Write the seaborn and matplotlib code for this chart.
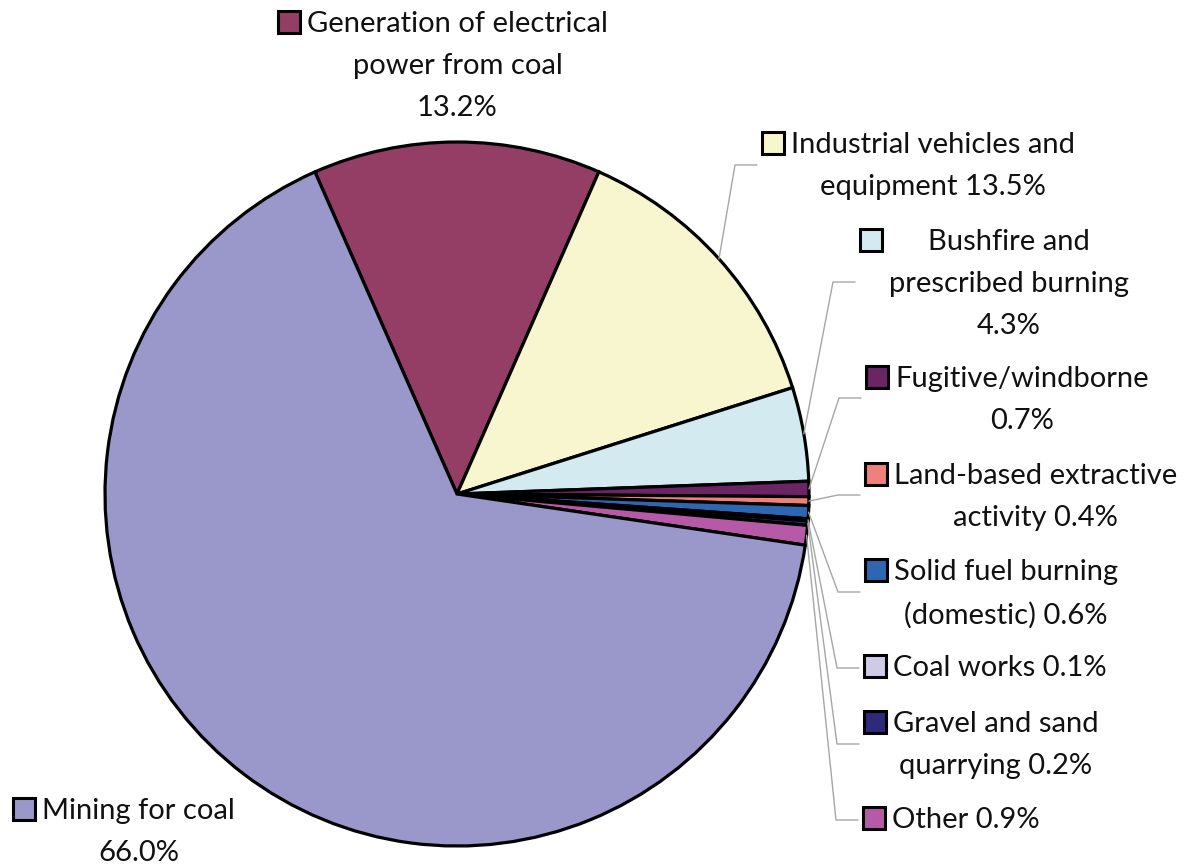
import numpy as np
import matplotlib
matplotlib.use('Agg')
import matplotlib.pyplot as plt
import seaborn as sns
from matplotlib.patches import Rectangle

# slice data, clockwise from the top
labels = ['Generation of electrical\npower from coal\n13.2%',
          'Industrial vehicles and\nequipment 13.5%',
          'Bushfire and\nprescribed burning\n4.3%',
          'Fugitive/windborne\n0.7%',
          'Land-based extractive\nactivity 0.4%',
          'Solid fuel burning\n(domestic) 0.6%',
          'Coal works 0.1%',
          'Gravel and sand\nquarrying 0.2%',
          'Other 0.9%',
          'Mining for coal\n66.0%']
shares = [13.2, 13.5, 4.3, 0.7, 0.4, 0.6, 0.1, 0.2, 0.9, 66.0]
colors = ['#943e66', '#f8f6cf', '#d3ebf0', '#6b2464', '#f0807c',
          '#2e67b1', '#cfcbe6', '#2e2a7b', '#b65aa8', '#9a97cb']

sns.set_theme(style='white')
plt.rcParams['font.family'] = ['Lato', 'DejaVu Sans']

W, H = 1187, 864
CX, CY, R = 457, 494, 352

fig = plt.figure(figsize=(W / 100, H / 100), dpi=100)
ax = fig.add_axes([(CX - R) / W, (H - CY - R) / H, 2 * R / W, 2 * R / H])
wedges, _ = ax.pie(shares, colors=colors, startangle=113.8, counterclock=False,
                   wedgeprops=dict(edgecolor='black', linewidth=2.3))
ax.set_xlim(-1, 1)
ax.set_ylim(-1, 1)

# overlay in pixel coordinates for labels and leader lines
ov = fig.add_axes([0, 0, 1, 1], zorder=3)
ov.set_xlim(0, W)
ov.set_ylim(H, 0)
ov.axis('off')
ov.patch.set_alpha(0)

# (left of text block, centre of first line, leader elbow y or None)
label_pos = [(307, 22, None),
             (791, 143, 165),
             (889, 240, 282),
             (895, 377, 398),
             (894, 474, 495),
             (894, 570, 592),
             (893, 666, 668),
             (893, 722, 744),
             (892, 818, 820),
             (42, 809, None)]

for w, lab, col, (lx, ly, ey) in zip(wedges, labels, colors, label_pos):
    ov.text(lx, ly - 11, lab, ha='left', va='top', multialignment='center',
            fontsize=21, color='#111111', linespacing=1.76)
    ov.add_patch(Rectangle((lx - 29, ly - 11), 22, 22, facecolor=col,
                           edgecolor='black', linewidth=2.2))
    if ey is not None:
        mid = np.deg2rad((w.theta1 + w.theta2) / 2)
        sx, sy = CX + R * np.cos(mid), CY - R * np.sin(mid)
        ex = lx - 34
        kx = ex - 22 if abs(ey - sy) > 3 else sx
        ov.plot([sx, kx, ex], [sy, ey, ey], color='#a6a6a6', lw=1.0)

fig.savefig('out.png', dpi=100, facecolor='white')
